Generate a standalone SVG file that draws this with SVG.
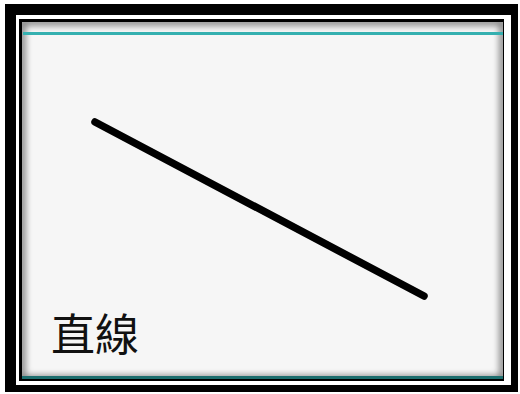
<svg xmlns="http://www.w3.org/2000/svg" width="520" height="394" viewBox="0 0 520 394">
<style>
.frame-outer{fill:#000}
.frame-gap{fill:#fff}
.frame-inner{fill:#000}
.panel{fill:#f6f6f6}
.label{font-family:"Liberation Serif","Noto Sans CJK TC",serif;font-size:44px;fill:#111}
.line{stroke:#000;stroke-width:7.5;stroke-linecap:round;fill:none}
</style>
<defs>
<clipPath id="pc"><rect x="22" y="22" width="481" height="357"/></clipPath>
<filter id="blur" x="-10%" y="-10%" width="120%" height="120%"><feGaussianBlur stdDeviation="3.5"/></filter>
</defs>
<rect width="520" height="394" fill="#fff"/>
<g id="frame">
<rect class="frame-outer" x="5" y="4" width="513" height="388"/>
<rect class="frame-gap" x="16" y="15" width="495" height="370"/>
<rect class="frame-inner" x="19" y="19" width="485" height="362"/>
<rect class="panel" x="22" y="22" width="481" height="357"/>
<g clip-path="url(#pc)">
<rect x="22" y="22" width="481" height="357" fill="none" stroke="#000" stroke-width="6" opacity="0.55" filter="url(#blur)"/>
</g>
<rect x="23" y="32" width="480" height="3" fill="#35b0b0"/>
<rect x="22" y="376" width="481" height="3" fill="#1d6e6e"/>
</g>
<g id="connectors">
<line class="line" x1="95" y1="122" x2="424" y2="296"/>
</g>
<g id="label">
<text class="label" x="51" y="351">直線</text>
</g>
</svg>
